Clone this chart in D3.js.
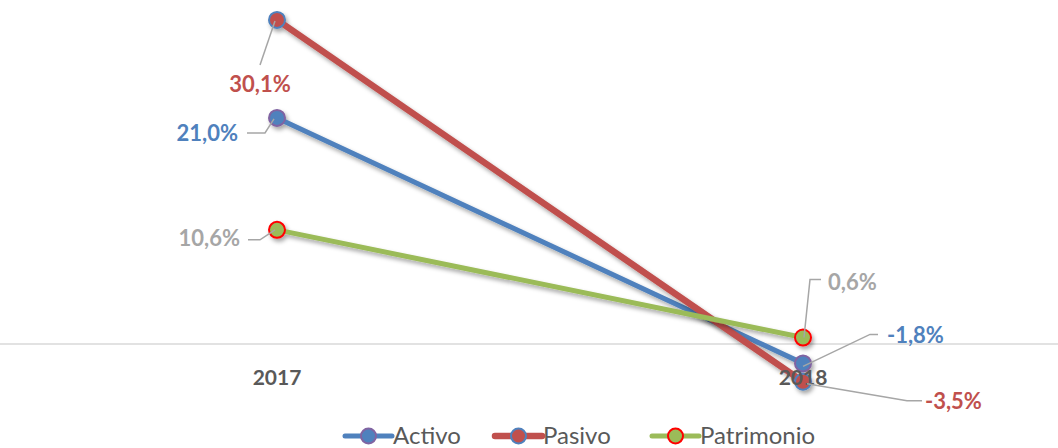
<!DOCTYPE html>
<html lang="es">
<head>
<meta charset="UTF-8">
<title>Variación Activo, Pasivo, Patrimonio</title>
<script src="https://d3js.org/d3.v7.min.js"></script>
<style>
    body { margin: 0; background: #fff; }
    svg { display: block; font-family: Lato, "Open Sans", sans-serif; }
</style>
</head>
<body>
<div id="chart"></div>
<script>
    const years = ["2017", "2018"];
    const activo = [21.0, -1.8];
    const pasivo = [30.1, -3.5];
    const patrimonio = [10.6, 0.6];
    const seriesNames = ["Activo", "Pasivo", "Patrimonio"];

    const width = 1058, height = 448;

    const series = [
        {name: seriesNames[0], values: activo, line: "#4F81BD", fill: "#4F81BD", stroke: "#8064A2", lw: 5},
        {name: seriesNames[1], values: pasivo, line: "#C0504D", fill: "#C0504D", stroke: "#4F81BD", lw: 6.5},
        {name: seriesNames[2], values: patrimonio, line: "#9BBB59", fill: "#9BBB59", stroke: "#FF0000", lw: 5}
    ];

    // label placement: text offset (dx, dy, anchor) and leader path offsets relative to the point
    const labelStyle = {
        "Activo": [
            {dx: -39, dy: 23, anchor: "end", color: "#4F81BD", leader: [[-30, 15], [-12, 15], [-3, 1]]},
            {dx: 84, dy: -20, anchor: "start", color: "#4F81BD", leader: [[75, -29], [67, -29], [0, 3]]}
        ],
        "Pasivo": [
            {dx: -17, dy: 72, anchor: "middle", color: "#C0504D", leader: [[-17, 45], [-2, 1]]},
            {dx: 122, dy: 27, anchor: "start", color: "#C0504D", leader: [[119, 19], [104, 19], [4, 2]]}
        ],
        "Patrimonio": [
            {dx: -37, dy: 16, anchor: "end", color: "#A6A6A6", leader: [[-29, 10], [-17, 10], [-2, 0]]},
            {dx: 25, dy: -48, anchor: "start", color: "#A6A6A6", leader: [[18, -58], [7, -58], [1, 0]]}
        ]
    };

    const fmt = v => d3.format(".1f")(v).replace(".", ",").replace("−", "-") + "%";

    const svg = d3.select("#chart").append("svg")
        .attr("width", width)
        .attr("height", height);

    const defs = svg.append("defs");
    const f = defs.append("filter").attr("id", "shadow")
        .attr("x", "-20%").attr("y", "-20%").attr("width", "140%").attr("height", "140%");
    f.append("feDropShadow").attr("dx", 2).attr("dy", 3).attr("stdDeviation", 2)
        .attr("flood-color", "#000").attr("flood-opacity", 0.35);

    const x = d3.scalePoint().domain(years).range([277, 803]);
    const y = d3.scaleLinear().domain([0, 30]).range([344, 21]);

    // zero baseline
    svg.append("line")
        .attr("x1", 0).attr("x2", width)
        .attr("y1", y(0)).attr("y2", y(0))
        .attr("stroke", "#D9D9D9").attr("stroke-width", 1.3);

    const line = d3.line().x((d, i) => x(years[i])).y(d => y(d));

    // series lines and markers
    series.forEach(s => {
        const g = svg.append("g").attr("filter", "url(#shadow)");
        g.append("path")
            .datum(s.values)
            .attr("d", line)
            .attr("fill", "none")
            .attr("stroke", s.line)
            .attr("stroke-width", s.lw)
            .attr("stroke-linecap", "round");
        g.selectAll("circle")
            .data(s.values)
            .join("circle")
            .attr("cx", (d, i) => x(years[i]))
            .attr("cy", d => y(d))
            .attr("r", 8)
            .attr("fill", s.fill)
            .attr("stroke", s.stroke)
            .attr("stroke-width", 2);
    });

    // category labels
    svg.selectAll("text.cat")
        .data(years)
        .join("text")
        .attr("class", "cat")
        .attr("x", d => x(d))
        .attr("y", 385)
        .attr("text-anchor", "middle")
        .attr("font-size", 21)
        .attr("font-weight", "bold")
        .attr("fill", "#595959")
        .text(d => d);

    // data labels with leader lines
    series.forEach(s => {
        s.values.forEach((v, i) => {
            const st = labelStyle[s.name][i];
            const px = x(years[i]), py = y(v);
            svg.append("path")
                .attr("d", d3.line()(st.leader.map(p => [px + p[0], py + p[1]])))
                .attr("fill", "none")
                .attr("stroke", "#A6A6A6")
                .attr("stroke-width", 1.5);
            svg.append("text")
                .attr("x", px + st.dx)
                .attr("y", py + st.dy)
                .attr("text-anchor", st.anchor)
                .attr("font-size", 22)
                .attr("font-weight", "bold")
                .attr("fill", st.color)
                .text(fmt(v));
        });
    });

    // legend
    const legendX = [345, 495, 652];
    const legend = svg.selectAll("g.legend")
        .data(series)
        .join("g")
        .attr("class", "legend")
        .attr("transform", (d, i) => `translate(${legendX[i]},436)`);
    legend.append("line")
        .attr("x1", 0).attr("x2", 47)
        .attr("stroke", d => d.line)
        .attr("stroke-width", d => d.lw)
        .attr("stroke-linecap", "round");
    legend.append("circle")
        .attr("cx", 23.5)
        .attr("r", 7.5)
        .attr("fill", d => d.fill)
        .attr("stroke", d => d.stroke)
        .attr("stroke-width", 2);
    legend.append("text")
        .attr("x", 48)
        .attr("y", 8)
        .attr("font-size", 24)
        .attr("fill", "#595959")
        .text(d => d.name);
</script>
</body>
</html>
